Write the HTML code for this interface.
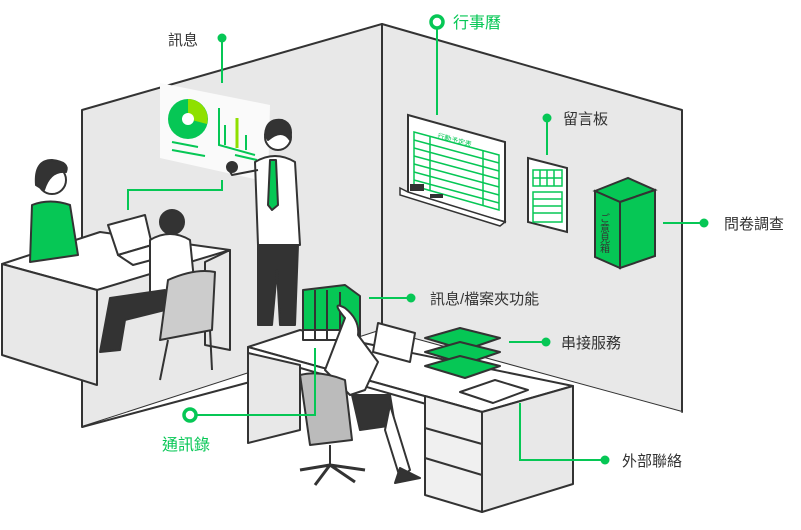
<!DOCTYPE html>
<html><head><meta charset="utf-8"><style>
html,body{margin:0;padding:0;background:#fff;width:801px;height:530px;overflow:hidden}
svg{display:block}
text{font-family:"Liberation Sans","Noto Sans CJK TC",sans-serif}
</style></head><body>
<svg width="801" height="530" viewBox="0 0 801 530" xmlns="http://www.w3.org/2000/svg">
<g stroke="#333" stroke-width="2" stroke-linejoin="round">
<!-- walls -->
<polygon points="382,24 682,110 682,412 382,330" fill="#e8e8e8"/>
<polygon points="82,110 382,24 382,330 82,427" fill="#e8e8e8"/>
<!-- floor -->
<polygon points="82,427 382,330 682,412 520,520 250,440" fill="#fff" stroke="none"/>
<line x1="82" y1="427" x2="250" y2="382"/>
</g>
<!-- screen -->
<polygon points="160,83 270,105 268,182 160,158" fill="#fafafa"/>
<circle cx="188" cy="119" r="20" fill="#06c755"/>
<path d="M188,99 A20,20 0 0 1 207,124 L188,119 Z" fill="#8fe000"/>
<circle cx="188" cy="119" r="6" fill="#fff"/>
<g stroke="#06c755" stroke-width="2" fill="none">
<polyline points="219,108 219,145 255,155"/><line x1="225" y1="125" x2="225" y2="145"/><line x1="246" y1="135" x2="246" y2="150"/>
<line x1="172" y1="142" x2="198" y2="147"/><line x1="172" y1="150" x2="205" y2="156"/><line x1="235" y1="155" x2="257" y2="160"/>
</g>
<line x1="237" y1="118" x2="237" y2="148" stroke="#8fe000" stroke-width="3"/>
<!-- whiteboard -->
<polygon points="408,115 505,142 505,222 408,195" fill="#fff" stroke="#333" stroke-width="2"/>
<polygon points="400,188 408,192 505,222 500,226 400,195" fill="#fff" stroke="#333" stroke-width="1.5"/>
<g stroke="#06c755" stroke-width="1.5" fill="none">
<polygon points="414,132 499,155 499,210 414,186"/>
<line x1="414" y1="140" x2="499" y2="163"/><line x1="414" y1="148" x2="499" y2="171"/><line x1="414" y1="156" x2="499" y2="179"/><line x1="414" y1="164" x2="499" y2="187"/><line x1="414" y1="172" x2="499" y2="195"/><line x1="414" y1="180" x2="499" y2="203"/>
<line x1="430" y1="136" x2="430" y2="190"/><line x1="483" y1="150" x2="483" y2="205"/>
</g>
<text x="437" y="138" font-size="7" fill="#06c755" transform="rotate(15 437 138)">行動予定表</text>
<rect x="410" y="184" width="14" height="7" fill="#333"/><rect x="430" y="194" width="13" height="4" fill="#333"/>
<!-- memo board -->
<polygon points="528,158 567,168 567,232 528,222" fill="#fff" stroke="#333" stroke-width="2"/>
<g stroke="#06c755" stroke-width="1.5" fill="none"><rect x="533" y="170" width="29" height="16"/><line x1="533" y1="178" x2="562" y2="178"/><line x1="540" y1="170" x2="540" y2="186"/><line x1="547" y1="170" x2="547" y2="186"/><line x1="554" y1="170" x2="554" y2="186"/>
<rect x="533" y="192" width="29" height="30"/><line x1="533" y1="199" x2="562" y2="199"/><line x1="533" y1="206" x2="562" y2="206"/><line x1="533" y1="213" x2="562" y2="213"/></g>
<!-- box -->
<polygon points="595,191 628,178 655,190 620,202" fill="#06c755" stroke="#333" stroke-width="2"/>
<polygon points="595,191 620,202 620,268 595,257" fill="#06c755" stroke="#333" stroke-width="2"/>
<polygon points="620,202 655,190 655,256 620,268" fill="#06c755" stroke="#333" stroke-width="2"/>
<text x="603" y="213" font-size="10" fill="#333" writing-mode="tb">ご意見箱</text>
<!-- left desk -->
<g stroke="#333" stroke-width="2" stroke-linejoin="round">
<polygon points="2,264 100,232 230,250 97,290" fill="#fff"/>
<polygon points="2,264 97,290 97,385 2,355" fill="#e8e8e8"/>
<polygon points="230,250 230,350 205,345 205,262" fill="#e8e8e8"/>
<!-- woman left -->
<path d="M32,205 Q50,198 70,205 L78,255 L30,262 Z" fill="#06c755"/>
<circle cx="52" cy="180" r="14" fill="#fff"/>
<path d="M36,185 Q34,160 52,160 Q70,162 66,172 Q50,170 44,190 Z" fill="#333"/>
<!-- laptop left -->
<polygon points="108,225 145,215 152,245 118,255" fill="#fff"/>
<polygon points="118,255 152,245 170,255 133,265" fill="#fff"/>
<!-- seated man -->
<path d="M150,240 Q170,228 190,240 L195,290 L150,300 Z" fill="#fff"/>
<circle cx="172" cy="222" r="12" fill="#333"/>
<path d="M110,298 L165,290 L165,310 L125,320 L120,350 L100,352 Z" fill="#333"/>
<!-- chair -->
<path d="M168,280 Q195,268 215,272 L212,330 L160,340 Z" fill="#ccc"/>
<line x1="168" y1="340" x2="160" y2="380"/><line x1="210" y1="330" x2="212" y2="370"/>
<!-- standing man -->
<path d="M255,162 Q275,150 295,162 L300,245 L258,245 Z" fill="#fff"/>
<polygon points="270,160 276,160 278,205 272,210 268,205" fill="#06c755"/>
<circle cx="278" cy="137" r="13" fill="#fff"/>
<path d="M265,135 Q266,118 282,120 Q294,124 290,140 Q282,128 268,140 Z" fill="#333"/>
<path d="M258,245 L298,245 L295,325 L280,325 L277,270 L272,325 L258,325 Z" fill="#333"/>
<path d="M258,170 L232,175 L228,168" fill="none"/>
<circle cx="232" cy="167" r="5" fill="#333"/>
<!-- right desk -->
<polygon points="248,347 300,330 573,386 482,412" fill="#fff"/>
<polygon points="248,347 482,412 482,420 248,353" fill="#fff"/>
<polygon points="248,353 300,365 300,430 248,443" fill="#e8e8e8"/>
<polygon points="425,396 482,412 482,512 425,495" fill="#f0f0f0"/>
<polygon points="482,412 573,386 573,484 482,512" fill="#e8e8e8"/>
<line x1="425" y1="428" x2="482" y2="444"/><line x1="425" y1="458" x2="482" y2="475"/>
<!-- binders -->
<polygon points="303,290 345,285 360,296 360,338 303,338" fill="#06c755"/>
<rect x="303" y="330" width="57" height="10" fill="#fff"/>
<line x1="315" y1="290" x2="315" y2="340"/><line x1="327" y1="290" x2="327" y2="340"/><line x1="340" y1="292" x2="340" y2="340"/>
<!-- laptop right -->
<polygon points="378,323 415,333 410,362 373,352" fill="#fff"/>
<!-- trays -->
<g fill="#06c755"><polygon points="425,338 460,328 500,338 465,350"/><polygon points="425,352 460,342 500,352 465,364"/><polygon points="425,366 460,356 500,366 465,378"/></g>
<!-- phone -->
<polygon points="460,392 495,380 528,390 493,403" fill="#fff"/>
<!-- woman seated -->
<path d="M345,318 Q330,300 345,308 Q360,320 358,335 L378,362 L365,390 L350,395 L325,370 Z" fill="#fff"/>
<path d="M352,395 L390,395 L395,425 L360,430 Z" fill="#333"/>
<path d="M390,405 L410,470 L400,478 L385,430 Z" fill="#fff"/>
<path d="M400,468 L420,478 L395,483 Z" fill="#333"/>
<!-- chair right -->
<path d="M300,375 Q320,370 345,380 L352,440 L310,445 Z" fill="#bbb"/>
<line x1="330" y1="445" x2="330" y2="465"/>
<path d="M300,470 L330,465 L365,470 M330,465 L315,485 M330,465 L355,482" fill="none" stroke-width="3"/>
</g>
<!-- connectors -->
<g stroke="#06c755" stroke-width="2" fill="none">
<line x1="222" y1="38" x2="222" y2="83"/>
<polyline points="222,180 222,190 128,190 128,210"/>
<line x1="437" y1="28" x2="437" y2="115"/>
<line x1="547" y1="118" x2="547" y2="155"/>
<line x1="663" y1="223" x2="704" y2="223"/>
<line x1="369" y1="298" x2="411" y2="298"/>
<line x1="509" y1="342" x2="546" y2="342"/>
<polyline points="520,403 520,460 605,460"/>
<polyline points="196,415 315,415 315,348"/>
</g>
<g fill="#06c755"><circle cx="222" cy="38" r="4.5"/><circle cx="547" cy="118" r="4.5"/><circle cx="704" cy="223" r="4.5"/><circle cx="411" cy="298" r="4.5"/><circle cx="546" cy="342" r="4.5"/><circle cx="605" cy="460" r="4.5"/></g>
<circle cx="437" cy="22" r="6" fill="#fff" stroke="#06c755" stroke-width="3.5"/>
<circle cx="190" cy="415" r="6" fill="#fff" stroke="#06c755" stroke-width="3.5"/>
<!-- labels -->
<g font-size="15" fill="#333">
<text x="168" y="45">訊息</text>
<text x="563" y="124">留言板</text>
<text x="724" y="229">問卷調查</text>
<text x="430" y="304">訊息/檔案夾功能</text>
<text x="561" y="348">串接服務</text>
<text x="622" y="466">外部聯絡</text>
</g>
<g font-size="16" fill="#06c755">
<text x="453" y="28">行事曆</text>
<text x="162" y="450">通訊錄</text>
</g>
</svg>
</body></html>
